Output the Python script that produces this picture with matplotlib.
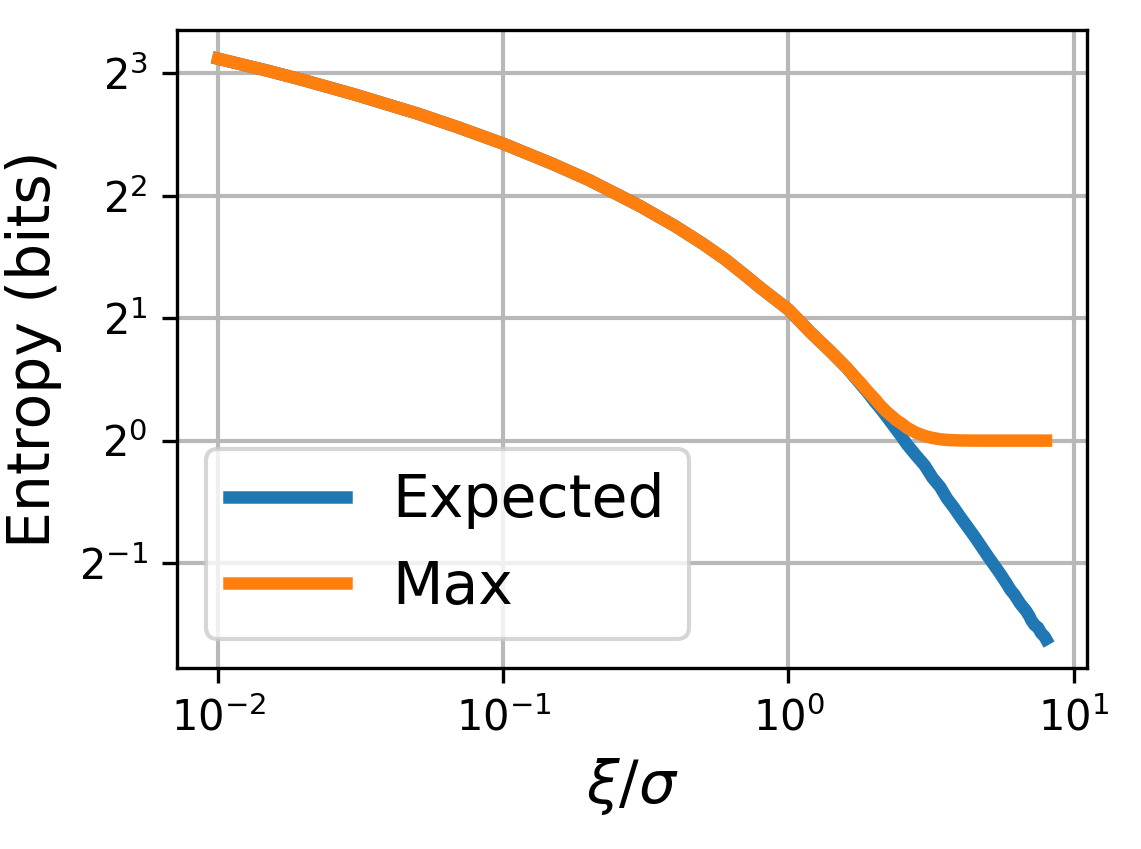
import matplotlib
matplotlib.use('Agg')
import matplotlib.pyplot as plt
from matplotlib.ticker import NullLocator

# xi / sigma
xi_sigma = [0.01, 0.015, 0.02, 0.03, 0.05, 0.07, 0.1, 0.15, 0.2, 0.3, 0.4,
            0.5, 0.6, 0.7, 0.8, 1.0, 1.2, 1.4, 1.6, 1.8, 1.9, 2.0, 2.1, 2.2,
            2.4, 2.5, 2.6, 2.8, 3.0, 3.2, 3.4, 3.6, 3.8, 4.0, 4.5, 5.0, 5.2,
            5.5, 5.8, 6.0, 6.2, 6.5, 6.8, 7.0, 7.1, 7.3, 7.5, 7.7, 7.9, 8.0]

# entropy in bits
expected = [8.69, 8.11, 7.69, 7.10, 6.37, 5.88, 5.37, 4.78, 4.37, 3.78, 3.37,
            3.05, 2.79, 2.56, 2.37, 2.10, 1.84, 1.66, 1.51, 1.37, 1.31, 1.25,
            1.20, 1.15, 1.06, 1.02, 0.98, 0.92, 0.87, 0.81, 0.77, 0.72, 0.685,
            0.65, 0.58, 0.52, 0.50, 0.473, 0.447, 0.43, 0.418, 0.397, 0.382,
            0.37, 0.362, 0.352, 0.347, 0.336, 0.33, 0.325]
max_ent = [8.69, 8.11, 7.69, 7.10, 6.37, 5.88, 5.37, 4.78, 4.37, 3.78, 3.37,
           3.05, 2.79, 2.56, 2.37, 2.10, 1.84, 1.66, 1.51, 1.38, 1.32, 1.27,
           1.22, 1.18, 1.12, 1.10, 1.076, 1.046, 1.027, 1.015, 1.008, 1.004,
           1.002, 1.001, 1.0, 1.0, 1.0, 1.0, 1.0, 1.0, 1.0, 1.0, 1.0, 1.0,
           1.0, 1.0, 1.0, 1.0, 1.0, 1.0]

fig = plt.figure(figsize=(1141 / 300, 849 / 300), dpi=300)
ax = fig.add_axes([0.155, 0.213, 0.798, 0.752])

ax.plot(xi_sigma, expected, lw=3, label='Expected')
ax.plot(xi_sigma, max_ent, lw=3, label='Max')

ax.set_xscale('log')
ax.set_yscale('log', base=2)
ax.xaxis.set_minor_locator(NullLocator())
ax.yaxis.set_minor_locator(NullLocator())
ax.grid(True, color='#b8b8b8', lw=1.0)

ax.set_xlabel(r'$\xi/\sigma$', fontsize=14)
ax.set_ylabel('Entropy (bits)', fontsize=14)
ax.tick_params(labelsize=10)
ax.legend(loc='lower left', fontsize=14)

fig.savefig('out.png', dpi=300)
